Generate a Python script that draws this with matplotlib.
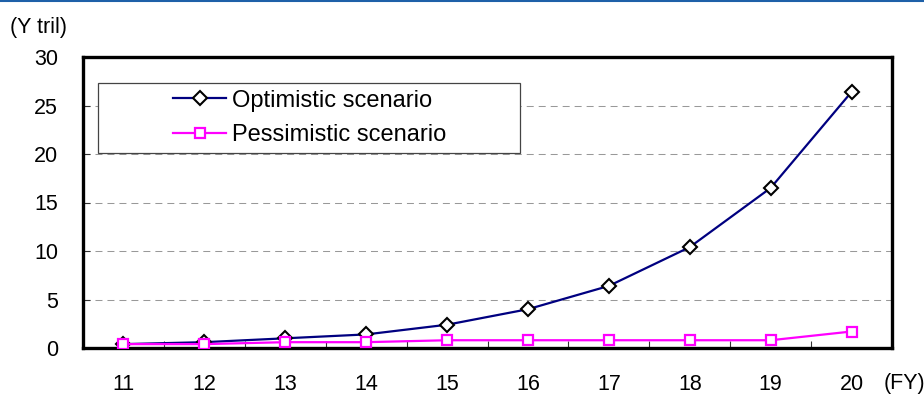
import matplotlib
matplotlib.use('Agg')
import matplotlib.pyplot as plt
import matplotlib.patches as mpatches
from matplotlib.lines import Line2D

plt.rcParams['font.family'] = ['Liberation Sans', 'DejaVu Sans']

# Fiscal years (x categories) and the two scenarios, in Y trillion
years = [11, 12, 13, 14, 15, 16, 17, 18, 19, 20]
optimistic = [0.4, 0.6, 1.0, 1.4, 2.4, 4.0, 6.4, 10.4, 16.5, 26.4]
pessimistic = [0.4, 0.4, 0.6, 0.6, 0.8, 0.8, 0.8, 0.8, 0.8, 1.7]
yticks = [0, 5, 10, 15, 20, 25, 30]

fig = plt.figure(figsize=(9.24, 3.94), dpi=100)
ax = fig.add_axes([83 / 924, 1 - 348 / 394, 809 / 924, 291 / 394])

ax.plot(years, optimistic, color='#000080', lw=1.6, marker='D', ms=6.8,
        mfc='white', mec='black', mew=1.5, label='Optimistic scenario',
        zorder=3)
ax.plot(years, pessimistic, color='#ff00ff', lw=1.6, marker='s', ms=7.4,
        mfc='white', mec='#ff00ff', mew=1.6, label='Pessimistic scenario',
        zorder=4)

ax.set_xlim(years[0] - 0.5, years[-1] + 0.5)
ax.set_ylim(yticks[0], yticks[-1])
ax.set_xticks(years)
ax.set_xticklabels([str(y) for y in years])
ax.set_xticks([y + 0.5 for y in years[:-1]], minor=True)
ax.set_yticks(yticks)

ax.tick_params(axis='x', which='major', length=0, pad=19, labelsize=15.5)
ax.tick_params(axis='x', which='minor', direction='in', length=5,
               width=0.8, color='#333333')
ax.tick_params(axis='y', which='major', direction='in', length=5,
               width=0.8, color='#333333', pad=18, labelsize=15.5)

for s in ax.spines.values():
    s.set_linewidth(2.4)
    s.set_color('black')

ax.set_axisbelow(True)
ax.yaxis.grid(True, color='#999999', lw=0.75, linestyle=(0, (6.7, 4.8)))

# legend box covering the grid
box = mpatches.Rectangle((15 / 809, 195 / 291), 422 / 809, 70 / 291,
                         transform=ax.transAxes, facecolor='white',
                         edgecolor='#444444', lw=0.9, zorder=1.5)
ax.add_patch(box)
ax.legend(loc='center left', bbox_to_anchor=(90 / 809, 230 / 291),
          frameon=False, fontsize=17, handlelength=2.25,
          handletextpad=0.25, borderpad=0, borderaxespad=0,
          labelspacing=0.55, numpoints=1)

fig.text(10 / 924, 1 - 28 / 394, '(Y tril)', fontsize=15.5, va='center',
         ha='left')
fig.text(884 / 924, 1 - 383 / 394, '(FY)', fontsize=15.5, va='center',
         ha='left')

fig.add_artist(Line2D([0, 1], [1 - 1 / 394, 1 - 1 / 394],
                      transform=fig.transFigure, color='#1e60a8', lw=1.5))

fig.savefig('out.png', dpi=100)
